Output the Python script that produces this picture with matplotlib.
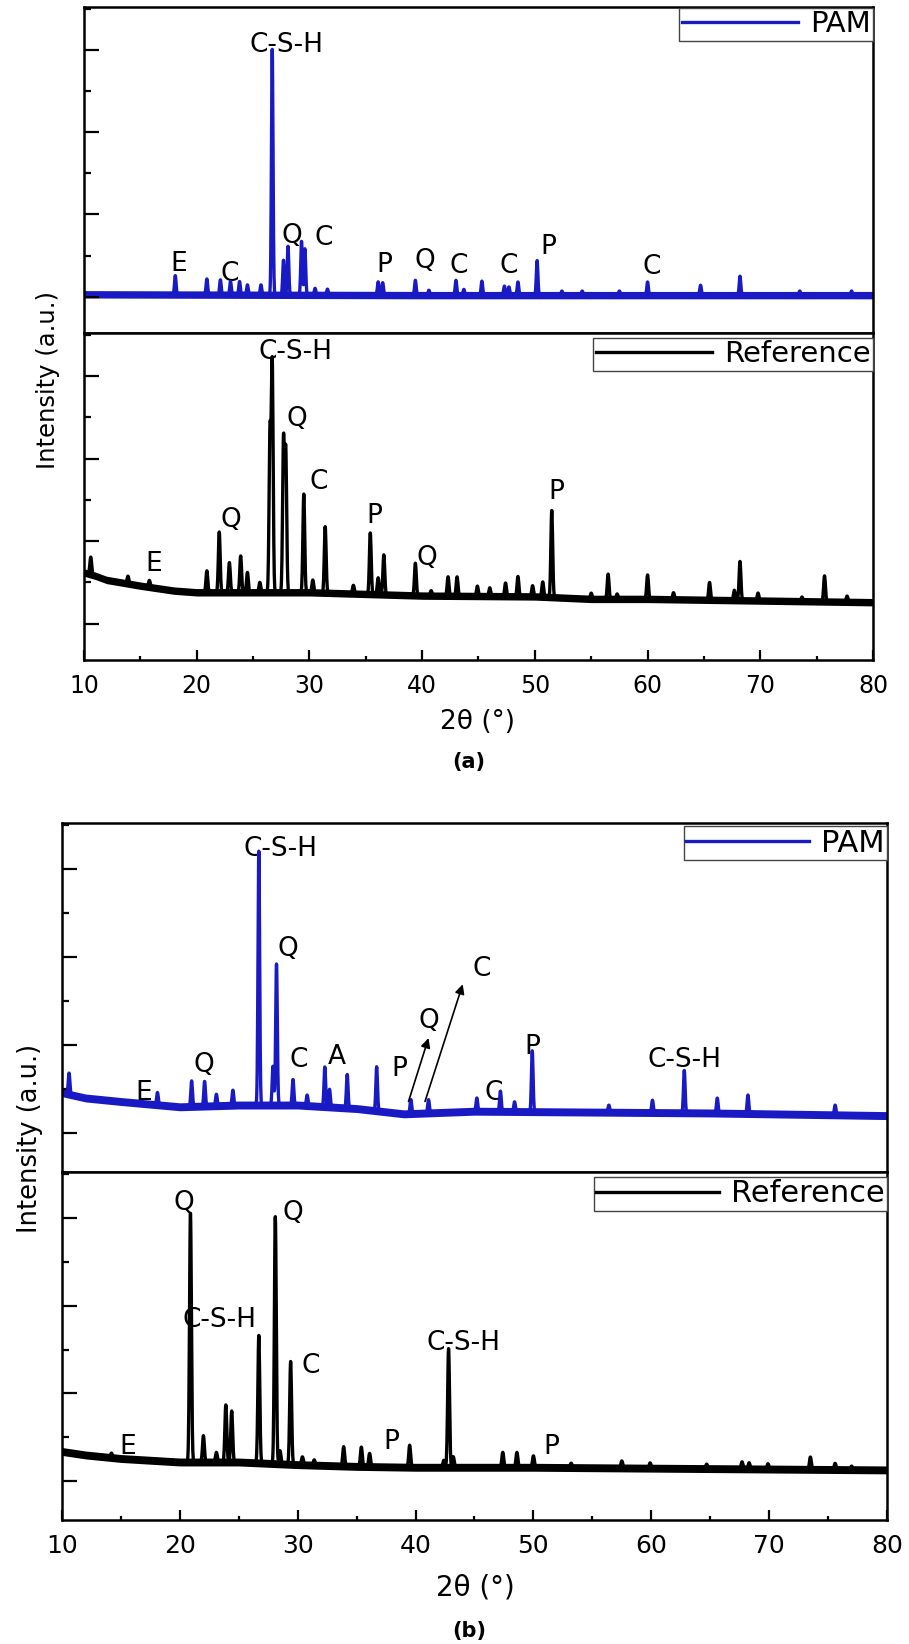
import numpy as np
import matplotlib.pyplot as plt

plt.rcParams['font.family'] = ['DejaVu Sans']

W, H = 909, 1644
two_theta = np.arange(10, 80.001, 0.02)

# ---- (a) PAM ----
pam_a_base_x = [10, 40, 80]
pam_a_base_y = [0.03, 0.02, 0.02]
pam_a_pos = [18.1, 20.9, 22.1, 23.0, 23.8, 24.5, 25.7, 26.7, 27.7, 28.1, 29.3, 29.6, 30.5, 31.6,
             36.1, 36.5, 39.4, 40.6, 43.0, 43.7, 45.3, 47.3, 47.7, 48.5, 50.2, 52.4, 54.2, 57.5,
             60.0, 64.7, 68.2, 73.5, 78.1]
pam_a_height = [0.23, 0.19, 0.18, 0.16, 0.16, 0.12, 0.12, 2.98, 0.42, 0.59, 0.65, 0.56, 0.08, 0.07,
                0.16, 0.15, 0.18, 0.06, 0.18, 0.07, 0.17, 0.11, 0.10, 0.16, 0.42, 0.05, 0.05, 0.05,
                0.16, 0.12, 0.23, 0.05, 0.05]
pam_a_labels = ['C-S-H', 'Q', 'C', 'E', 'C', 'P', 'Q', 'C', 'C', 'P', 'C']
pam_a_label_x = [28.0, 28.4, 31.3, 18.4, 22.9, 36.6, 40.2, 43.2, 47.7, 51.2, 60.4]
pam_a_label_y = [3.06, 0.74, 0.71, 0.40, 0.28, 0.39, 0.43, 0.37, 0.37, 0.60, 0.36]

# ---- (a) Reference ----
ref_a_base_x = [10, 11, 12, 15, 18, 20, 25, 30, 35, 40, 50, 55, 60, 70, 80]
ref_a_base_y = [0.62, 0.58, 0.53, 0.46, 0.40, 0.38, 0.38, 0.38, 0.36, 0.34, 0.33, 0.30, 0.30, 0.28, 0.26]
ref_a_pos = [10.6, 13.9, 15.8, 20.9, 22.0, 22.9, 23.9, 24.5, 25.6, 26.5, 26.7, 27.7, 27.9, 29.5,
             30.3, 31.4, 33.9, 35.4, 36.1, 36.6, 39.4, 40.8, 42.3, 43.1, 44.9, 46.0, 47.4, 48.5,
             49.8, 50.7, 51.5, 55.0, 56.5, 57.3, 60.0, 62.3, 65.5, 67.7, 68.2, 69.8, 73.7, 75.7, 77.7]
ref_a_height = [0.21, 0.09, 0.08, 0.26, 0.73, 0.36, 0.44, 0.24, 0.12, 1.92, 2.77, 1.85, 1.70, 1.19,
                0.15, 0.80, 0.10, 0.74, 0.20, 0.48, 0.39, 0.06, 0.23, 0.23, 0.12, 0.10, 0.16, 0.24,
                0.13, 0.18, 1.05, 0.07, 0.30, 0.06, 0.29, 0.08, 0.21, 0.12, 0.47, 0.09, 0.05, 0.31, 0.07]
ref_a_labels = ['C-S-H', 'Q', 'C', 'Q', 'E', 'P', 'Q', 'P']
ref_a_label_x = [28.8, 28.9, 30.8, 23.0, 16.2, 35.8, 40.4, 51.9]
ref_a_label_y = [3.29, 2.48, 1.71, 1.26, 0.72, 1.30, 0.80, 1.59]

# ---- (b) PAM ----
pam_b_base_x = [10, 12, 15, 20, 25, 30, 35, 39, 45, 55, 65, 80]
pam_b_base_y = [0.46, 0.40, 0.36, 0.30, 0.32, 0.32, 0.28, 0.22, 0.25, 0.24, 0.23, 0.20]
pam_b_pos = [10.6, 18.1, 21.0, 22.1, 23.1, 24.5, 26.7, 27.9, 28.2, 29.6, 30.8, 32.3, 32.7, 34.2,
             36.7, 39.6, 41.1, 45.2, 47.2, 48.4, 49.9, 56.4, 60.1, 62.8, 65.6, 68.2, 75.6]
pam_b_height = [0.24, 0.14, 0.29, 0.28, 0.13, 0.17, 2.88, 0.44, 1.60, 0.29, 0.12, 0.45, 0.20, 0.38,
                0.50, 0.16, 0.15, 0.15, 0.23, 0.11, 0.69, 0.08, 0.14, 0.48, 0.17, 0.21, 0.11]
pam_b_labels = ['C-S-H', 'Q', 'C', 'A', 'Q', 'E', 'P', 'Q', 'C', 'C', 'P', 'C-S-H']
pam_b_label_x = [28.5, 29.2, 30.1, 33.3, 22.0, 16.9, 38.6, 41.1, 45.6, 46.6, 49.9, 62.8]
pam_b_label_y = [3.22, 2.09, 0.83, 0.86, 0.77, 0.46, 0.73, 1.27, 1.86, 0.46, 0.98, 0.83]
pam_b_arrow_from = [(39.4, 0.36), (40.8, 0.36)]
pam_b_arrow_to = [(41.1, 1.08), (44.0, 1.69)]

# ---- (b) Reference ----
ref_b_base_x = [10, 12, 15, 20, 25, 30, 35, 40, 50, 60, 70, 80]
ref_b_base_y = [0.34, 0.30, 0.26, 0.22, 0.22, 0.19, 0.17, 0.16, 0.16, 0.15, 0.14, 0.13]
ref_b_pos = [14.2, 20.9, 22.0, 23.1, 23.9, 24.4, 26.7, 28.1, 28.5, 29.4, 30.4, 31.4, 33.9, 35.4,
             36.1, 39.5, 42.4, 42.8, 43.2, 47.4, 48.6, 50.0, 53.2, 57.5, 59.9, 64.7, 67.7, 68.3,
             69.9, 73.5, 75.6, 77.0]
ref_b_height = [0.05, 2.83, 0.30, 0.11, 0.65, 0.58, 1.45, 2.81, 0.15, 1.17, 0.09, 0.06, 0.22, 0.22,
                0.15, 0.25, 0.08, 1.35, 0.12, 0.17, 0.17, 0.13, 0.05, 0.08, 0.06, 0.05, 0.08, 0.07,
                0.06, 0.14, 0.07, 0.04]
ref_b_labels = ['Q', 'Q', 'C-S-H', 'C', 'C-S-H', 'E', 'P', 'P']
ref_b_label_x = [20.3, 29.6, 23.4, 31.1, 44.1, 15.6, 37.9, 51.5]
ref_b_label_y = [3.17, 3.05, 1.84, 1.31, 1.57, 0.39, 0.45, 0.39]

BLUE = '#1a1ac4'


def pattern(pos, height, base_x, base_y, width):
    base = np.interp(two_theta, base_x, base_y)
    y = base.copy()
    for p, h in zip(pos, height):
        y += h * np.exp(-0.5 * ((two_theta - p) / width) ** 2)
    return base, y


def add_panel(fig, l, r, t, b):
    return fig.add_axes([l / W, 1 - b / H, (r - l) / W, (b - t) / H])


def style(ax, bottom, tsize):
    ax.set_xlim(10, 80)
    ax.set_ylim(-0.44, 3.52)
    ax.set_yticks([0, 1, 2, 3])
    ax.set_yticks([0.5, 1.5, 2.5, 3.5], minor=True)
    ax.tick_params(axis='y', which='major', direction='in', length=10.8, width=1.6,
                   labelleft=False, right=False)
    ax.tick_params(axis='y', which='minor', direction='in', length=5, width=1.6, right=False)
    for s in ax.spines.values():
        s.set_linewidth(1.8)
    if bottom:
        ax.set_xticks(range(10, 81, 10))
        ax.set_xticks(range(15, 80, 10), minor=True)
        ax.tick_params(axis='x', which='major', direction='in', length=7.2, width=1.6,
                       labelsize=tsize, pad=10, top=False)
        ax.tick_params(axis='x', which='minor', direction='in', length=3.2, width=1.6, top=False)
    else:
        ax.tick_params(axis='x', which='both', bottom=False, top=False, labelbottom=False)


def draw(ax, pos, height, base_x, base_y, width, color, name, labels, lx, ly, fsize, lgsize, off):
    base, y = pattern(pos, height, base_x, base_y, width)
    # noisy baseline band
    ax.fill_between(two_theta, base - 0.045, base + 0.045, color=color, lw=0)
    ax.plot(two_theta, y, color=color, lw=2.4, label=name)
    for t, x0, y0 in zip(labels, lx, ly):
        ax.text(x0, y0, t, ha='center', va='center', fontsize=fsize, zorder=1)
    leg = ax.legend(loc='upper right', bbox_to_anchor=(1, 1 - off), borderaxespad=0,
                    fontsize=lgsize, frameon=True, fancybox=False, edgecolor='#444444',
                    framealpha=1, handlelength=4.0, handletextpad=0.4, borderpad=0.08)
    leg.get_frame().set_linewidth(1.0)


fig = plt.figure(figsize=(W / 100, H / 100), dpi=100)

# panel (a)
ax1 = add_panel(fig, 84, 873, 7, 333)
ax2 = add_panel(fig, 84, 873, 333, 660)
style(ax1, False, 17)
style(ax2, True, 17)
draw(ax1, pam_a_pos, pam_a_height, pam_a_base_x, pam_a_base_y, 0.07, BLUE, 'PAM',
     pam_a_labels, pam_a_label_x, pam_a_label_y, 19, 21, 0.003)
draw(ax2, ref_a_pos, ref_a_height, ref_a_base_x, ref_a_base_y, 0.08, 'black', 'Reference',
     ref_a_labels, ref_a_label_x, ref_a_label_y, 19, 21, 0.015)
fig.text(48 / W, 1 - 380 / H, 'Intensity (a.u.)', rotation=90, ha='center', va='center', fontsize=17.5)
fig.text(478 / W, 1 - 722 / H, '2θ (°)', ha='center', va='center', fontsize=19)
fig.text(469 / W, 1 - 762 / H, '(a)', ha='center', va='center', fontsize=15, fontweight='bold')

# panel (b)
ax3 = add_panel(fig, 62, 887, 823, 1172)
ax4 = add_panel(fig, 62, 887, 1172, 1520)
style(ax3, False, 18)
style(ax4, True, 18)
draw(ax3, pam_b_pos, pam_b_height, pam_b_base_x, pam_b_base_y, 0.07, BLUE, 'PAM',
     pam_b_labels, pam_b_label_x, pam_b_label_y, 19, 22, 0.009)
for a0, a1 in zip(pam_b_arrow_from, pam_b_arrow_to):
    ax3.annotate('', xy=a1, xytext=a0,
                 arrowprops=dict(arrowstyle='-|>', color='black', lw=1.2, mutation_scale=14,
                                 shrinkA=0, shrinkB=0))
draw(ax4, ref_b_pos, ref_b_height, ref_b_base_x, ref_b_base_y, 0.08, 'black', 'Reference',
     ref_b_labels, ref_b_label_x, ref_b_label_y, 19, 22, 0.014)
fig.text(30 / W, 1 - 1138 / H, 'Intensity (a.u.)', rotation=90, ha='center', va='center', fontsize=18.5)
fig.text(475 / W, 1 - 1587 / H, '2θ (°)', ha='center', va='center', fontsize=20)
fig.text(469 / W, 1 - 1631 / H, '(b)', ha='center', va='center', fontsize=15, fontweight='bold')

fig.savefig('out.png', dpi=100)
